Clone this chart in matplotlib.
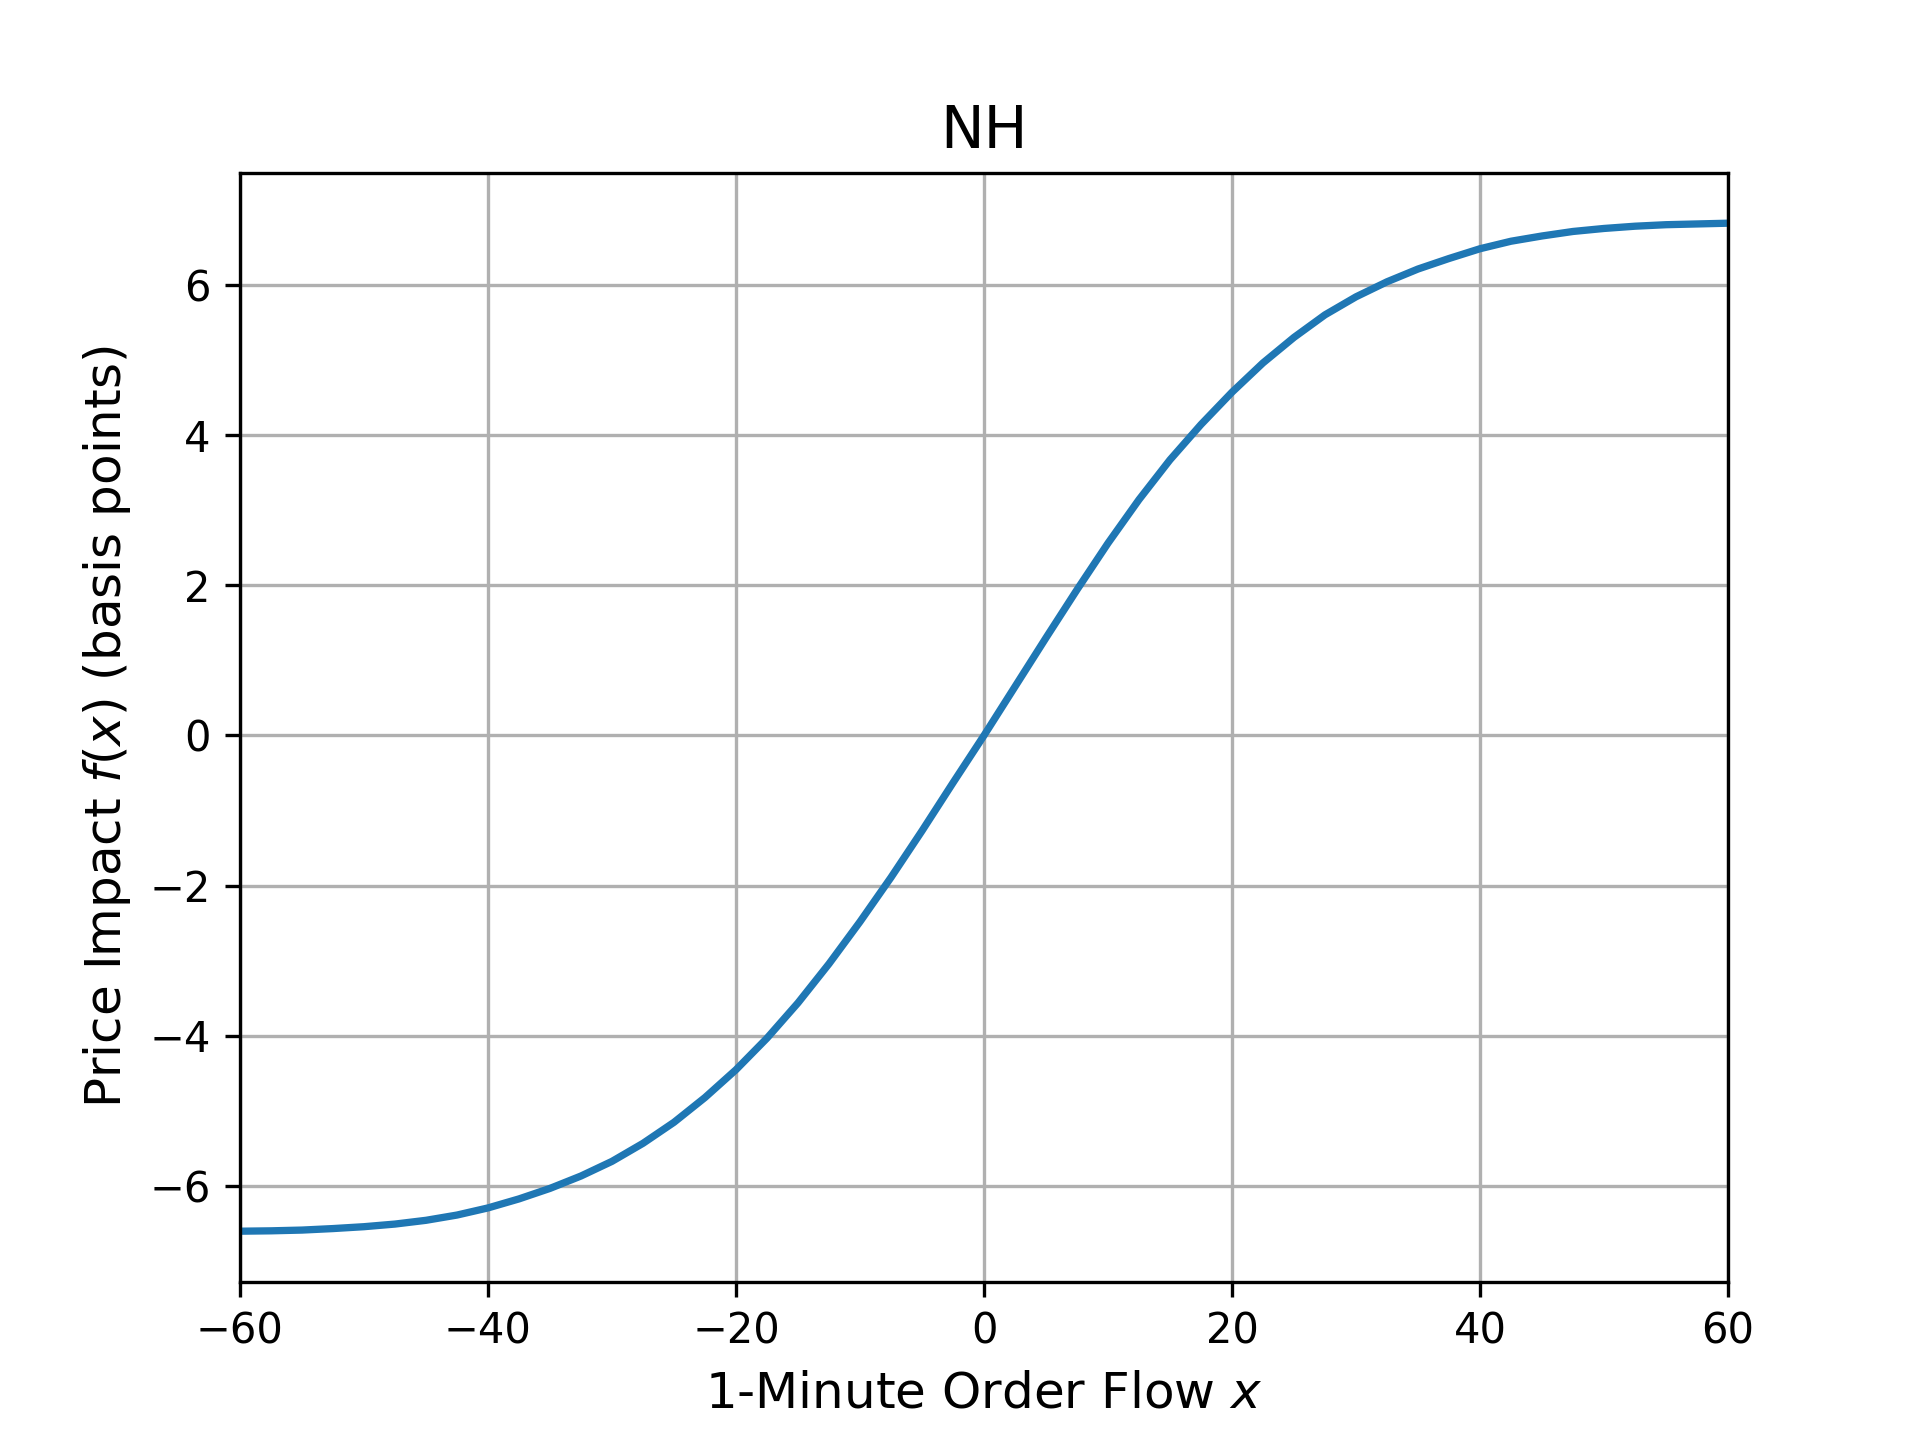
import matplotlib
matplotlib.use("Agg")
import matplotlib.pyplot as plt

# order flow (x) and price impact f(x) in basis points
order_flow = [-60, -57.5, -55, -52.5, -50, -47.5, -45, -42.5, -40, -37.5,
              -35, -32.5, -30, -27.5, -25, -22.5, -20, -17.5, -15, -12.5,
              -10, -7.5, -5, -2.5, 0, 2.5, 5, 7.5, 10, 12.5,
              15, 17.5, 20, 22.5, 25, 27.5, 30, 32.5, 35, 37.5,
              40, 42.5, 45, 47.5, 50, 52.5, 55, 57.5, 60]
price_impact = [-6.600, -6.595, -6.585, -6.565, -6.540, -6.505, -6.455, -6.385, -6.290, -6.170,
                -6.030, -5.865, -5.670, -5.430, -5.150, -4.820, -4.450, -4.030, -3.560, -3.040,
                -2.480, -1.890, -1.270, -0.630, 0.000, 0.650, 1.300, 1.940, 2.560, 3.140,
                3.670, 4.140, 4.570, 4.960, 5.300, 5.600, 5.840, 6.040, 6.210, 6.350,
                6.480, 6.580, 6.650, 6.710, 6.750, 6.780, 6.800, 6.810, 6.820]

fig = plt.figure(figsize=(6.4, 4.8), dpi=300)
plt.plot(order_flow, price_impact, color='#1f77b4', linewidth=1.75)
plt.xlim(-60, 60)
plt.title('NH', fontsize=14)
plt.xlabel('1-Minute Order Flow $x$', fontsize=12)
plt.ylabel('Price Impact $f(x)$ (basis points)', fontsize=12)
plt.grid(True)
plt.savefig('out.png', dpi=300)
